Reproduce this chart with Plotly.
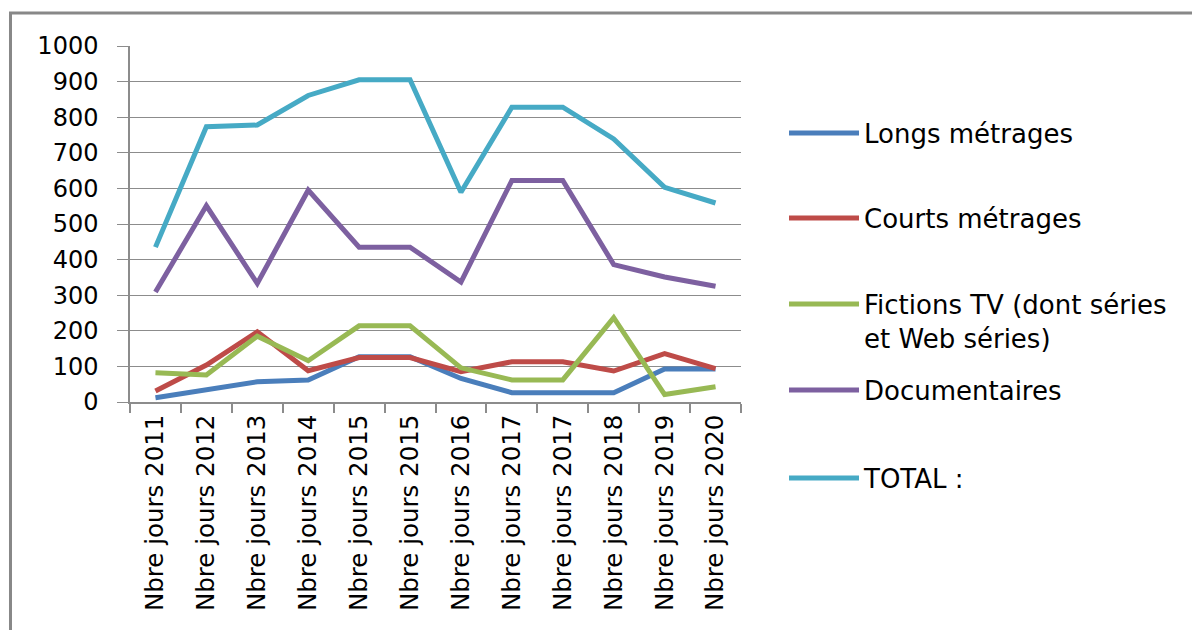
import plotly.graph_objects as go

categories = ["Nbre jours 2011", "Nbre jours 2012", "Nbre jours 2013", "Nbre jours 2014",
              "Nbre jours 2015", "Nbre jours 2015", "Nbre jours 2016", "Nbre jours 2017",
              "Nbre jours 2017", "Nbre jours 2018", "Nbre jours 2019", "Nbre jours 2020"]
longs = [12, 35, 57, 62, 127, 127, 66, 26, 26, 26, 93, 93]
courts = [31, 104, 197, 88, 125, 125, 85, 113, 113, 87, 136, 94]
fictions = [82, 76, 185, 116, 214, 214, 96, 62, 62, 237, 21, 43]
docs = [309, 551, 333, 595, 435, 435, 337, 622, 622, 386, 351, 325]
total = [435, 773, 778, 861, 905, 905, 589, 828, 828, 739, 603, 559]

names = ["Longs métrages", "Courts métrages", "Fictions TV (dont séries<br>et Web séries)",
         "Documentaires", "TOTAL :"]
colors = ["#4A7EBB", "#BE4B48", "#98B954", "#7D60A0", "#46AAC5"]
series = [longs, courts, fictions, docs, total]
legend_ids = ["legend", "legend2", "legend3", "legend4", "legend5"]
legend_y = [0.7556, 0.5169, 0.2275, 0.0337, -0.2135]

FONT = "DejaVu Sans"
x = list(range(len(categories)))

fig = go.Figure()
for nm, col, ys, lid in zip(names, colors, series, legend_ids):
    fig.add_trace(go.Scatter(x=x, y=ys, name=nm, mode="lines",
                             line=dict(color=col, width=5),
                             legend=lid))

GRID = "#8C8C8C"
layout = dict(
    width=1192, height=622,
    margin=dict(l=122, r=459, t=38, b=228),
    paper_bgcolor="white", plot_bgcolor="white",
    font=dict(family=FONT, size=23, color="#000000"),
    xaxis=dict(range=[-0.5, 11.5], tickvals=x, ticktext=categories, tickangle=-90,
               showgrid=False, zeroline=False, showline=True, linecolor=GRID, linewidth=1.5,
               ticks="", ticklabelstandoff=1, tickfont=dict(size=24.5),
               minor=dict(tickvals=[i - 0.5 for i in range(13)], ticks="outside",
                          ticklen=9, tickcolor=GRID, tickwidth=1.5, showgrid=False)),
    yaxis=dict(range=[0, 1000], dtick=100, showgrid=True, gridcolor=GRID, gridwidth=1.2,
               zeroline=False, showline=True, linecolor=GRID, linewidth=1.5,
               ticks="outside", ticklen=11, tickcolor=GRID, tickwidth=1.2,
               ticklabelstandoff=14, tickfont=dict(size=24)),
    shapes=[dict(type="rect", xref="paper", yref="paper",
                 x0=-0.1956, x1=1.9, y0=-0.8, y1=1.0927,
                 line=dict(color="#888888", width=3), fillcolor="rgba(0,0,0,0)", layer="above")],
)
for lid, ly in zip(legend_ids, legend_y):
    layout[lid] = dict(x=1.0704, y=ly, xanchor="left", yanchor="middle", valign="top",
                       bgcolor="rgba(0,0,0,0)", borderwidth=0, itemwidth=70,
                       font=dict(family=FONT, size=26, color="#000000"))
fig.update_layout(**layout)
fig.update_layout(showlegend=True)

fig.write_html("out.html")
